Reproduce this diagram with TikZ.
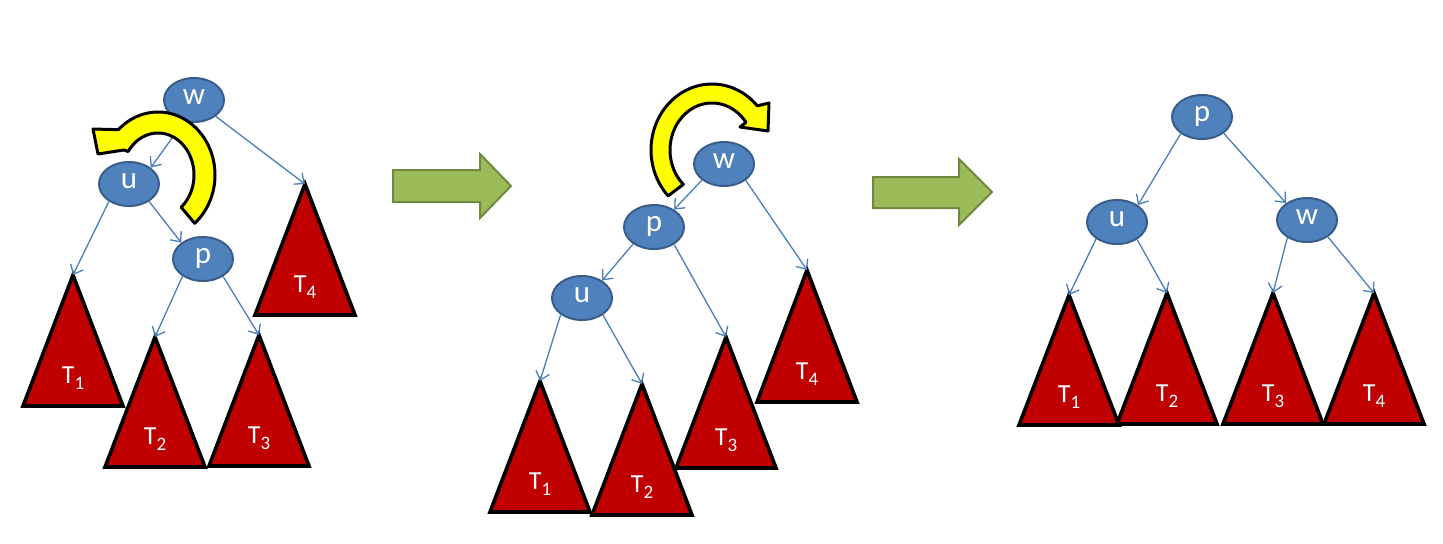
\documentclass[tikz,border=0pt]{standalone}
\usepackage{fontspec}
\setmainfont{Carlito}
\usetikzlibrary{arrows.meta,shapes.geometric}
\definecolor{nodefill}{HTML}{4F81BD}
\definecolor{nodeline}{HTML}{385D8A}
\definecolor{edgecol}{HTML}{4A7EBB}
\definecolor{trifill}{HTML}{C00000}
\definecolor{grfill}{HTML}{9BBB59}
\definecolor{grline}{HTML}{71893F}
\definecolor{yfill}{HTML}{FFFF00}
\newcommand\tsub[1]{\raisebox{-3.3pt}{\fontsize{9.5}{10}\selectfont #1}}
\newcommand\subtree[5]{%
  \coordinate (#1) at (#2,#3);
  \draw[tri] (#1) -- (#2-50,#4) -- (#2+50,#4) -- cycle;
  \node[tlab] (#1lab) at (#2,#4-23) {T\tsub{#5}};}
\begin{document}
\begin{tikzpicture}[x=0.5pt,y=-0.5pt,
 tnode/.style={ellipse, draw=nodeline, fill=nodefill, line width=1pt,
   minimum width=30pt, minimum height=22pt, inner sep=0pt, text=white,
   font=\fontsize{15.5}{15.5}\selectfont, text height=1ex, text depth=0pt},
 edge/.style={draw=edgecol, line width=0.65pt, -{Straight Barb[length=4pt,width=7pt]}},
 tri/.style={draw=black, fill=trifill, line width=1.8pt},
 tlab/.style={text=white, font=\fontsize{13}{13}\selectfont, inner sep=0pt, anchor=base},
 yarrow/.style={draw=black, fill=yfill, line width=1.5pt, line join=round},
 garrow/.style={draw=grline, fill=grfill, line width=1pt}]
\useasboundingbox (0,0) rectangle (1443,543);

% ---------- left tree ----------
\subtree{LT1}{73}{275}{406}{1}
\subtree{LT2}{155}{337}{467}{2}
\subtree{LT3}{259}{335}{466}{3}
\subtree{LT4}{305}{184}{315}{4}
\node[tnode] (Lw) at (194,100) {w};
\node[tnode] (Lu) at (129,184) {u};
\node[tnode] (Lp) at (203,259) {p};
\draw[edge] (Lw.245) -- (Lu.37);
\draw[edge] (Lw.-37) -- (LT4);
\draw[edge] (Lu.221) -- (LT1);
\draw[edge] (Lu.-41) -- (Lp.143);
\draw[edge] (Lp.220) -- (LT2);
\draw[edge] (Lp.-41) -- (LT3);
\draw[yarrow] plot[domain=-50:134,samples=60] ({158+57*cos(\x)},{175-63*sin(\x)})
  -- (93,129) -- (98,154) -- (124,150)
  -- plot[domain=146:-50,samples=60] ({158+36*cos(\x)},{175-42*sin(\x)}) -- cycle;

% ---------- green arrows ----------
\draw[garrow] (393,170) -- (480,170) -- (480,154) -- (511,186) -- (480,218) -- (480,202) -- (393,202) -- cycle;
\draw[garrow] (873,177) -- (959,177) -- (959,159) -- (992,192) -- (959,225) -- (959,208) -- (873,208) -- cycle;

% ---------- middle tree ----------
\subtree{MT1}{540}{381}{512}{1}
\subtree{MT2}{642}{384}{515}{2}
\subtree{MT3}{726}{337}{468}{3}
\subtree{MT4}{807}{270}{402}{4}
\node[tnode] (Mw) at (724,164) {w};
\node[tnode] (Mp) at (654,227) {p};
\node[tnode] (Mu) at (582,298) {u};
\draw[edge] (Mw.216) -- (Mp.41);
\draw[edge] (Mw.-37) -- (MT4);
\draw[edge] (Mp.219) -- (Mu.41);
\draw[edge] (Mp.-41) -- (MT3);
\draw[edge] (Mu.218) -- (MT1);
\draw[edge] (Mu.-39) -- (MT2);
\draw[yarrow] plot[domain=224:42,samples=60] ({712+61*cos(\x)},{150-66*sin(\x)})
  -- (769,103) -- (768,131) -- (740,127)
  -- plot[domain=36:227,samples=60] ({712+42*cos(\x)},{150-47*sin(\x)}) -- cycle;

% ---------- right tree ----------
\subtree{RT1}{1069}{295}{425}{1}
\subtree{RT2}{1167}{293}{424}{2}
\subtree{RT3}{1273}{293}{424}{3}
\subtree{RT4}{1374}{293}{424}{4}
\node[tnode] (Rp) at (1202,117) {p};
\node[tnode] (Ru) at (1117,222) {u};
\node[tnode] (Rw) at (1307,220) {w};
\draw[edge] (Rp.218) -- (Ru.39);
\draw[edge] (Rp.-37) -- (Rw.141);
\draw[edge] (Ru.219) -- (RT1);
\draw[edge] (Ru.-41) -- (RT2);
\draw[edge] (Rw.222) -- (RT3);
\draw[edge] (Rw.-39) -- (RT4);
\end{tikzpicture}
\end{document}
